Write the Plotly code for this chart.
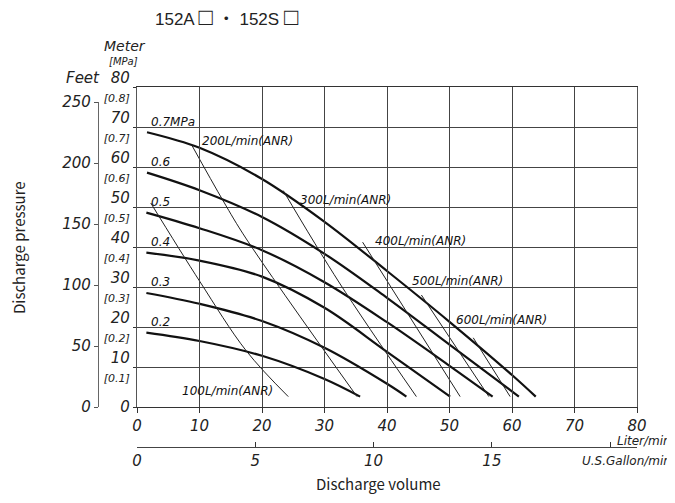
import plotly.graph_objects as go

# ---------------- data ----------------
# pressure curves (discharge volume L/min -> discharge head m)
p_labels = ["0.7MPa", "0.6", "0.5", "0.4", "0.3", "0.2"]
p_levels = [0.7, 0.6, 0.5, 0.4, 0.3, 0.2]
flow_07 = [1.6, 10, 20, 30, 40, 50, 60, 63.8]
head_07 = [68.7, 64.8, 57.0, 46.3, 34.0, 21.3, 8.0, 2.6]
flow_06 = [1.6, 10, 20, 30, 40, 50, 61.1]
head_06 = [58.6, 54.2, 47.5, 38.3, 27.3, 15.6, 2.6]
flow_05 = [1.5, 10, 20, 30, 40, 50, 56.9]
head_05 = [48.6, 44.7, 39.2, 31.2, 21.2, 10.3, 2.6]
flow_04 = [1.5, 10, 20, 30, 40, 50.1]
head_04 = [38.6, 36.6, 32.6, 24.8, 13.8, 2.6]
flow_03 = [1.5, 10, 20, 30, 40, 43.1]
head_03 = [28.5, 25.8, 21.5, 14.8, 5.8, 2.6]
flow_02 = [1.5, 10, 20, 30, 35.7]
head_02 = [18.6, 16.5, 12.8, 7.0, 2.6]

# air consumption lines
air_labels = ["100L/min(ANR)", "200L/min(ANR)", "300L/min(ANR)",
              "400L/min(ANR)", "500L/min(ANR)", "600L/min(ANR)"]
air100_x = [2.2, 10, 17.5, 24.2]
air100_y = [51.0, 31.5, 14.0, 2.6]
air200_x = [8.75, 13.8, 17.5, 35.2]
air200_y = [65.5, 51.5, 42.0, 2.6]
air300_x = [23.4, 32.4, 44.7]
air300_y = [54.1, 31.0, 2.6]
air400_x = [36.1, 51.7]
air400_y = [41.2, 2.6]
air500_x = [45.5, 56.3]
air500_y = [28.0, 2.6]
air600_x = [53.8, 59.7]
air600_y = [17.3, 2.6]

# label anchor positions (data coords)
air_label_x = [6.9, 10.1, 25.8, 37.7, 43.7, 50.7]
air_label_y = [4.1, 66.5, 51.75, 41.6, 31.6, 21.75]

# axes ticks
meter_ticks = [0, 10, 20, 30, 40, 50, 60, 70, 80]
flow_ticks = [0, 10, 20, 30, 40, 50, 60, 70, 80]
feet_ticks = [0, 50, 100, 150, 200, 250]
gal_ticks = [0, 5, 10, 15, 20]
gal_ticktext = ["0", "5", "10", "15", ""]

M_PER_FT = 0.3048
L_PER_GAL = 3.78541

# ---------------- figure ----------------
fig = go.Figure()

curves = [(flow_07, head_07), (flow_06, head_06), (flow_05, head_05),
          (flow_04, head_04), (flow_03, head_03), (flow_02, head_02)]
for fx, fy in curves:
    fig.add_trace(go.Scatter(x=fx, y=fy, mode="lines",
                             line=dict(color="#111", width=2.2, shape="spline"),
                             showlegend=False, hoverinfo="skip"))

airs = [(air100_x, air100_y), (air200_x, air200_y), (air300_x, air300_y),
        (air400_x, air400_y), (air500_x, air500_y), (air600_x, air600_y)]
for ax_, ay_ in airs:
    fig.add_trace(go.Scatter(x=ax_, y=ay_, mode="lines",
                             line=dict(color="#222", width=1, shape="spline"),
                             showlegend=False, hoverinfo="skip"))

# dummy traces to materialise secondary axes
fig.add_trace(go.Scatter(x=[None], y=[None], xaxis="x2", yaxis="y", showlegend=False))
fig.add_trace(go.Scatter(x=[None], y=[None], xaxis="x", yaxis="y2", showlegend=False))

tickfont = dict(family="DejaVu Sans", size=15, color="#222", style="italic")

meter_text = []
for v in meter_ticks:
    if v == 0:
        meter_text.append("0")
    else:
        meter_text.append(f"{v}<br><span style='font-size:11px'>[{v/100:.1f}]</span>")

OFF = 8  # page body margin
W, H = 675 - OFF, 503 - OFF
plot_l, plot_r, plot_t, plot_b = 98 - OFF, 637 - OFF, 87 - OFF, 447 - OFF
pw, ph = plot_r - plot_l, plot_b - plot_t
xdom0 = (137 - 98) / pw
ydom0 = (447 - 407) / ph
feet_top = 407 - 250 * M_PER_FT * 4
ydom_feet_top = (447 - feet_top) / ph

grid_col = "#444"
fig.update_layout(
    width=W, height=H,
    margin=dict(l=plot_l, r=W - plot_r, t=plot_t, b=H - plot_b, autoexpand=False),
    paper_bgcolor="white", plot_bgcolor="rgba(0,0,0,0)",
    xaxis=dict(domain=[xdom0, 1], range=[0, 80], anchor="y",
               tickvals=flow_ticks, ticks="outside", ticklen=5, tickcolor="#333",
               showline=True, linecolor="#333", linewidth=1.3, mirror=True,
               showgrid=True, gridcolor=grid_col, gridwidth=1.2, zeroline=False,
               tickfont=tickfont),
    yaxis=dict(domain=[ydom0, 1], range=[0, 80], anchor="x",
               tickvals=meter_ticks, ticktext=meter_text, ticks="outside",
               ticklen=3, tickcolor="#333",
               showline=True, linecolor="#555", linewidth=1.3, mirror=True,
               showgrid=True, gridcolor=grid_col, gridwidth=1.2, zeroline=False,
               tickfont=tickfont),
    xaxis2=dict(overlaying="x", anchor="free", position=0, side="bottom",
                range=[0, 80 / L_PER_GAL], tickvals=gal_ticks, ticktext=gal_ticktext,
                ticks="inside", ticklen=5, tickcolor="#333",
                showline=True, linecolor="#444", linewidth=1.3,
                showgrid=False, zeroline=False, tickfont=tickfont),
    yaxis2=dict(anchor="free", position=0, domain=[ydom0, ydom_feet_top],
                range=[0, 250], tickvals=feet_ticks, ticks="outside", ticklen=4,
                tickcolor="#555", showline=True, linecolor="#666", linewidth=1.3,
                showgrid=False, zeroline=False, tickfont=tickfont),
)

ann_font = dict(family="DejaVu Sans", size=12, color="#111", style="italic")
annotations = []
for lab, lev in zip(p_labels, p_levels):
    annotations.append(dict(x=1.9, y=lev * 100 + 1.3, xref="x", yref="y", text=lab,
                            showarrow=False, xanchor="left", yanchor="middle",
                            font=ann_font))
for lab, lx, ly in zip(air_labels, air_label_x, air_label_y):
    annotations.append(dict(x=lx, y=ly, xref="x", yref="y", text=lab,
                            showarrow=False, xanchor="left", yanchor="middle",
                            font=ann_font))


def px(xp):
    return (xp - 98) / pw


def py(yp):
    return (447 - yp) / ph


sans = "Noto Sans CJK JP"
sq = "<span style='font-size:24px'>□</span>"
annotations += [
    dict(x=px(153), y=py(16), xref="paper", yref="paper",
         text=f"152A {sq} ・ 152S {sq}",
         showarrow=False, xanchor="left", yanchor="middle",
         font=dict(family="Liberation Sans, DejaVu Sans, Noto Sans CJK JP",
                   size=17, color="#222")),
    dict(x=px(125), y=py(46), xref="paper", yref="paper", text="Meter",
         showarrow=False, xanchor="center", yanchor="middle",
         font=dict(family="DejaVu Sans", size=14, color="#222", style="italic")),
    dict(x=px(123), y=py(61), xref="paper", yref="paper", text="[MPa]",
         showarrow=False, xanchor="center", yanchor="middle",
         font=dict(family="DejaVu Sans", size=10, color="#222", style="italic")),
    dict(x=px(83), y=py(78), xref="paper", yref="paper", text="Feet",
         showarrow=False, xanchor="center", yanchor="middle",
         font=dict(family="DejaVu Sans", size=15, color="#222", style="italic")),
    dict(x=px(673), y=py(441), xref="paper", yref="paper", text="Liter/min",
         showarrow=False, xanchor="right", yanchor="middle",
         font=dict(family="DejaVu Sans", size=12, color="#222", style="italic")),
    dict(x=px(673), y=py(461), xref="paper", yref="paper", text="U.S.Gallon/min",
         showarrow=False, xanchor="right", yanchor="middle",
         font=dict(family="DejaVu Sans", size=12, color="#222", style="italic")),
    dict(x=px(378), y=py(483), xref="paper", yref="paper", text="Discharge volume",
         showarrow=False, xanchor="center", yanchor="middle",
         font=dict(family=sans, size=15, color="#222")),
    dict(x=px(18), y=py(248), xref="paper", yref="paper", text="Discharge pressure",
         showarrow=False, xanchor="center", yanchor="middle", textangle=-90,
         font=dict(family=sans, size=15, color="#222")),
]
fig.update_layout(annotations=annotations)

fig.write_html("out.html")
